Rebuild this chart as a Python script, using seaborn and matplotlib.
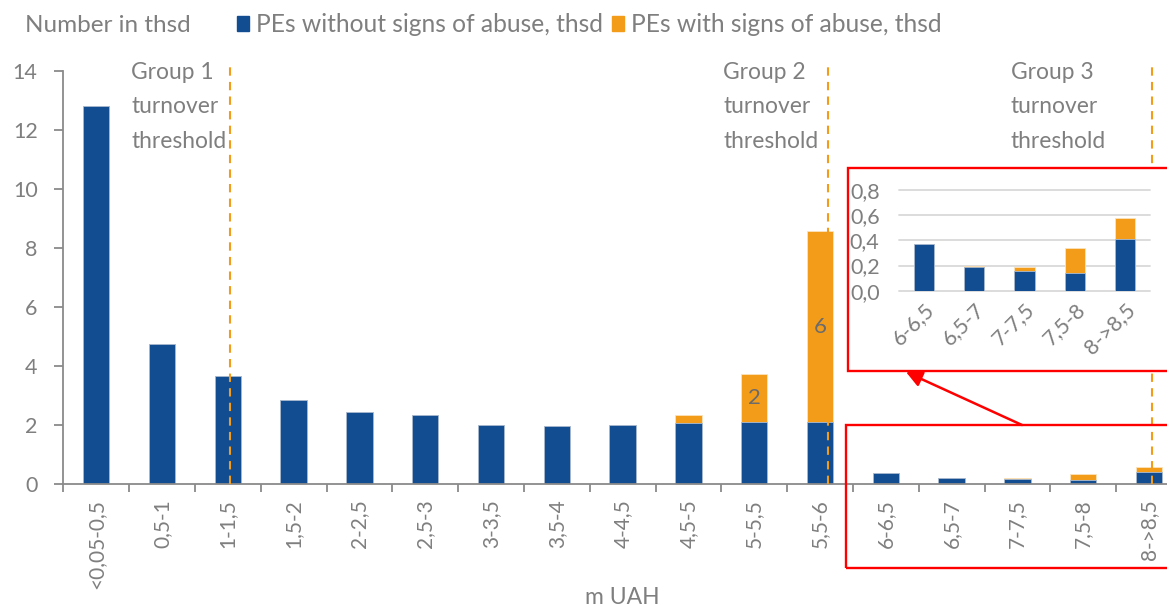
import numpy as np
import pandas as pd
import seaborn as sns
import matplotlib.pyplot as plt
from matplotlib.patches import Rectangle, FancyArrowPatch

categories = ["<0,05-0,5", "0,5-1", "1-1,5", "1,5-2", "2-2,5", "2,5-3", "3-3,5",
              "3,5-4", "4-4,5", "4,5-5", "5-5,5", "5,5-6", "6-6,5", "6,5-7",
              "7-7,5", "7,5-8", "8->8,5"]
no_abuse = [12.8, 4.75, 3.65, 2.83, 2.42, 2.32, 1.99, 1.95, 1.98, 2.07, 2.1, 2.1,
            0.37, 0.185, 0.16, 0.14, 0.41]
with_abuse = [0, 0, 0, 0, 0, 0, 0, 0, 0, 0.25, 1.62, 6.45,
              0, 0.01, 0.03, 0.2, 0.17]
group_names = ["Group 1", "Group 2", "Group 3"]
# dashed threshold lines, in category-axis units
threshold_x = [2.03, 11.12, 16.04]
inset_from = 12  # first category shown in the zoomed inset

BLUE = "#124d91"
ORANGE = "#f39c1a"
GREY = "#7f7f7f"
SPINE = "#8a8a8a"
FS = 15  # tick labels

sns.set_style("white")
plt.rcParams["font.family"] = ["Lato", "DejaVu Sans"]

W, H = 1167, 608
fig = plt.figure(figsize=(W / 100, H / 100), dpi=100)

df = pd.DataFrame({"range": categories, "without": no_abuse, "with": with_abuse})
df["total"] = df["without"] + df["with"]

# main chart
ax = fig.add_axes([63.3 / W, (H - 483.7) / H, 17 * 65.8 / W, 413 / H])
sns.barplot(data=df, x="range", y="total", color=ORANGE, width=0.4, saturation=1,
            errorbar=None, edgecolor="#fbe3bd", linewidth=0.6, ax=ax)
sns.barplot(data=df, x="range", y="without", color=BLUE, width=0.4, saturation=1,
            errorbar=None, edgecolor="#a9bcd6", linewidth=0.6, ax=ax)
ax.set_xlim(-0.5, 16.5)
ax.set_ylim(0, 14)
ax.set_yticks(range(0, 15, 2))
ax.set_xlabel("")
ax.set_ylabel("")
for s in ["top", "right"]:
    ax.spines[s].set_visible(False)
for s in ["left", "bottom"]:
    ax.spines[s].set_color(SPINE)
    ax.spines[s].set_linewidth(1.3)
ax.set_xticks(np.arange(-0.5, 17, 1), minor=True)
ax.tick_params(axis="x", which="major", length=0, pad=11, labelsize=FS,
               labelcolor=GREY, rotation=90)
ax.tick_params(axis="x", which="minor", length=5.6, width=1.3, color=SPINE,
               direction="out", bottom=True)
ax.tick_params(axis="y", length=6.5, width=1.3, color=SPINE, pad=12,
               labelsize=FS + 0.5, labelcolor=GREY, left=True)

# value labels in the bigger orange segments
for i, (b, o) in enumerate(zip(no_abuse, with_abuse)):
    if o >= 1:
        ax.text(i, b + o / 2, f"{o:.0f}", ha="center", va="center",
                fontsize=16, color="#6b6b6b")

# threshold lines and captions
caption_x = [0.53, 9.53, 13.9]
for name, lx, tx in zip(group_names, threshold_x, caption_x):
    ax.plot([lx, lx], [0, 14.12], color=ORANGE, lw=1.5, ls=(0, (4, 3)),
            clip_on=False, zorder=4)
    ax.text(tx, 14.3, f"{name}\nturnover\nthreshold", ha="left", va="top",
            fontsize=16.4, color=GREY, linespacing=1.8)

# legend line
fig.text(25 / W, 1 - 26 / H, "Number in thsd", fontsize=17.5, color=GREY,
         va="center", ha="left")
handles = [Rectangle((0, 0), 1, 1, color=BLUE), Rectangle((0, 0), 1, 1, color=ORANGE)]
fig.legend(handles, ["PEs without signs of abuse, thsd", "PEs with signs of abuse, thsd"],
           loc="center left", bbox_to_anchor=(237 / W, 1 - 25 / H), ncol=2,
           frameon=False, fontsize=17.7, labelcolor=GREY, handlelength=0.5,
           handleheight=0.55, handletextpad=0.28, columnspacing=0.36,
           borderaxespad=0, borderpad=0)

fig.text(622 / W, 1 - 597 / H, "m UAH", fontsize=16.5, color=GREY,
         ha="center", va="center")

# red frames and arrow
fig.add_artist(Rectangle((848 / W, (H - 371) / H), 0.4, (371 - 168) / H,
                         transform=fig.transFigure, facecolor="white",
                         edgecolor="red", lw=1.7, zorder=2))
fig.add_artist(Rectangle((846 / W, (H - 568) / H), 0.4, (568 - 425) / H,
                         transform=fig.transFigure, facecolor="none",
                         edgecolor="red", lw=1.7, zorder=2))
fig.add_artist(FancyArrowPatch((1022 / W, (H - 425) / H), (906 / W, (H - 372) / H),
                               transform=fig.transFigure, arrowstyle="-|>",
                               mutation_scale=24, color="red", lw=1.8,
                               shrinkA=0, shrinkB=0, zorder=2))

# zoomed inset
sub = df.iloc[inset_from:]
iax = fig.add_axes([899 / W, (H - 290.7) / H, 251 / W, 100.7 / H])
iax.set_zorder(3)
iax.set_facecolor("none")
sns.barplot(data=sub, x="range", y="total", color=ORANGE, width=0.4, saturation=1,
            errorbar=None, edgecolor="#fbe3bd", linewidth=0.6, ax=iax, zorder=3)
sns.barplot(data=sub, x="range", y="without", color=BLUE, width=0.4, saturation=1,
            errorbar=None, edgecolor="#a9bcd6", linewidth=0.6, ax=iax, zorder=3)
iax.set_xlim(-0.5, 4.5)
iax.set_ylim(0, 0.8)
iax.set_yticks(np.arange(0, 0.81, 0.2))
iax.set_yticklabels([f"{v:.1f}".replace(".", ",") for v in np.arange(0, 0.81, 0.2)])
iax.set_xlabel("")
iax.set_ylabel("")
iax.grid(axis="y", color="#d9d9d9", lw=1.3, zorder=0)
for ln in iax.get_ygridlines():
    ln.set_clip_on(False)
for s in iax.spines.values():
    s.set_visible(False)
iax.tick_params(axis="both", length=0, labelsize=FS + 0.5, labelcolor=GREY)
iax.tick_params(axis="y", pad=14)
plt.setp(iax.get_xticklabels(), rotation=45, ha="right", rotation_mode="anchor")
iax.tick_params(axis="x", pad=6)

fig.savefig("out.png", dpi=100)
